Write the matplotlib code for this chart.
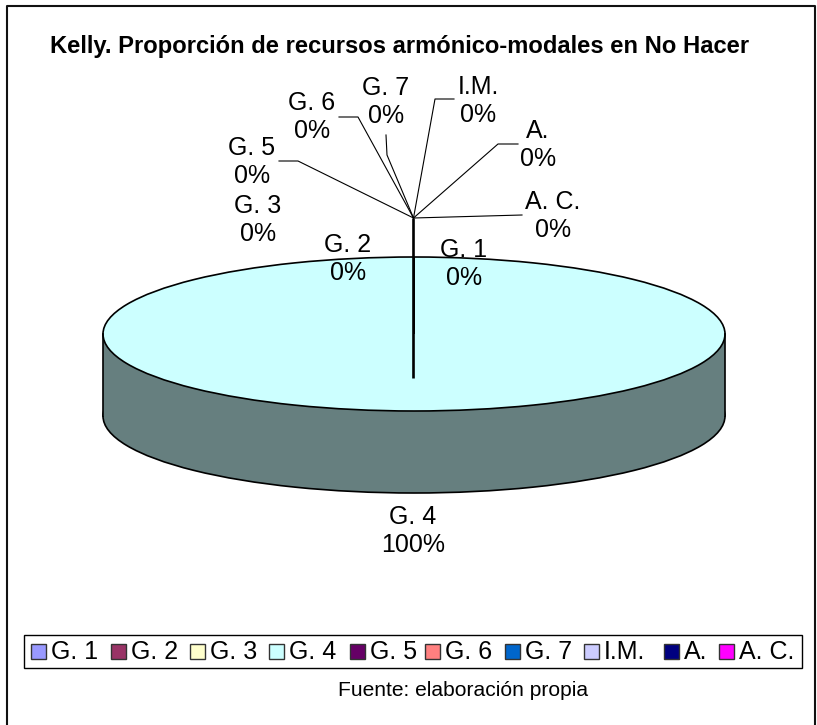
import matplotlib
matplotlib.use("Agg")
import matplotlib.pyplot as plt
from matplotlib.patches import Rectangle

categories = ["G. 1", "G. 2", "G. 3", "G. 4", "G. 5", "G. 6", "G. 7", "I.M.", "A.", "A. C."]
values = [0, 0, 0, 100, 0, 0, 0, 0, 0, 0]
colors = ["#9999FF", "#993366", "#FFFFCC", "#CCFFFF", "#660066", "#FF8080", "#0066CC", "#CCCCFF", "#000080", "#FF00FF"]
side_colors = ["#667F7F" if c == "#CCFFFF" else c for c in colors]
title = "Kelly. Proporción de recursos armónico-modales en No Hacer"
source = "Fuente: elaboración propia"

W, H = 817, 725
plt.rcParams["font.family"] = ["Liberation Sans", "DejaVu Sans"]
fig = plt.figure(figsize=(W / 100, H / 100), dpi=100, facecolor="white")

# overlay axes in pixel units
ov = fig.add_axes([0, 0, 1, 1], zorder=1)
ov.set_xlim(0, W); ov.set_ylim(H, 0); ov.axis("off")
ov.plot([7, 7, 815, 815], [H + 5, 6, 6, H + 5], color="#111111", lw=1.5)

# pie extents in pixels
L, R, T, MID, DEPTH = 103, 725, 257, 334, 82
B = MID + 77 + DEPTH
ax = fig.add_axes([L / W, 1 - B / H, (R - L) / W, (B - T) / H], zorder=0)
d = DEPTH / 77
ax.pie(values, colors=side_colors, radius=1, center=(0, -d), startangle=90,
       wedgeprops=dict(edgecolor="black", linewidth=1.2))
ax.fill_between([-1, 1], [-d, -d], [0, 0], color=side_colors[3], lw=0)
ax.plot([-1, -1], [-d, 0], color="black", lw=1.2)
ax.plot([1, 1], [-d, 0], color="black", lw=1.2)
ax.pie(values, colors=colors, radius=1, center=(0, 0), startangle=90,
       wedgeprops=dict(edgecolor="black", linewidth=1.2))
ax.set_aspect("auto")
ax.set_xlim(-1, 1)
ax.set_ylim(-1 - d, 1)
ax.axis("off")
for artist in ax.patches + ax.lines:
    artist.set_clip_on(False)

ov.text(400, 46, title, ha="center", va="center", fontsize=17.1, fontweight="bold")

# leader lines
cx, cy = 413.5, 218
ov.plot([cx, cx], [cy, 378], color="black", lw=1.9, solid_capstyle="butt")
leaders = [
    [(cx, cy), (298, 161), (279, 161)],
    [(cx, cy), (358, 117), (339, 117)],
    [(cx, cy), (387, 155), (386, 135)],
    [(cx, cy), (435, 99), (454, 99)],
    [(cx, cy), (498, 144), (518, 144)],
    [(cx, cy), (522, 215)],
]
for pts in leaders:
    ov.plot([p[0] for p in pts], [p[1] for p in pts], color="black", lw=0.8)

# data labels
label_pos = [(464, 264), (348, 259), (258, 220), (413, 531), (252, 162),
             (312, 117), (386, 102), (478, 101), (538, 145), (553, 216)]
for name, v, (x, y) in zip(categories, values, label_pos):
    ov.text(x, y, f"{name}\n{v}%", ha="center", va="center",
            fontsize=18, linespacing=1.22, color="black")

# legend
ov.add_patch(Rectangle((24.5, 634.5), 778, 33, fill=False, ec="black", lw=1.0))
leg_x = [31, 111, 190, 269, 350, 425, 505, 584, 664, 719]
for x, c, name in zip(leg_x, colors, categories):
    ov.add_patch(Rectangle((x, 644), 15, 15, fc=c, ec="#333333", lw=1.0))
    ov.text(x + 20, 652, name, ha="left", va="center", fontsize=18)

ov.text(463, 691, source, ha="center", va="center", fontsize=15.1)

fig.savefig("out.png", dpi=100)
